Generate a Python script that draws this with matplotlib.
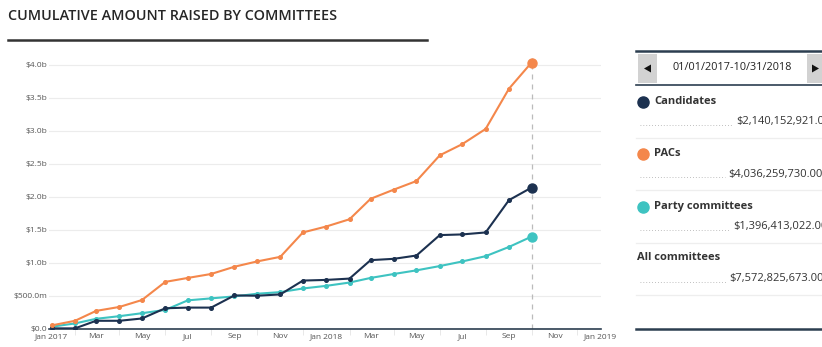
import matplotlib
matplotlib.use("Agg")
import matplotlib.pyplot as plt
import matplotlib.dates as mdates
from matplotlib.patches import Rectangle, Polygon
from matplotlib.lines import Line2D
import numpy as np
import datetime as dt

plt.rcParams['font.family'] = ['Open Sans', 'DejaVu Sans']

months = [dt.date(2017 + (m // 12), m % 12 + 1, 1) for m in range(22)]
candidates = [0.005, 0.005, 0.12, 0.12, 0.155, 0.31, 0.32, 0.32, 0.505, 0.50, 0.52,
              0.73, 0.74, 0.76, 1.04, 1.06, 1.11, 1.42, 1.43, 1.46, 1.95, 2.140152921]
pacs = [0.05, 0.12, 0.27, 0.33, 0.435, 0.71, 0.77, 0.83, 0.94, 1.02, 1.09,
        1.46, 1.55, 1.66, 1.97, 2.11, 2.24, 2.63, 2.80, 3.03, 3.64, 4.03625973]
party = [0.03, 0.08, 0.15, 0.19, 0.235, 0.285, 0.43, 0.46, 0.49, 0.53, 0.555,
         0.61, 0.65, 0.70, 0.77, 0.83, 0.885, 0.95, 1.02, 1.10, 1.24, 1.396413022]
series_names = ["Candidates", "PACs", "Party committees"]
totals = ["$2,140,152,921.00", "$4,036,259,730.00", "$1,396,413,022.00"]
all_total = "$7,572,825,673.00"
date_range = "01/01/2017-10/31/2018"
ytick_vals = [0, 0.5, 1.0, 1.5, 2.0, 2.5, 3.0, 3.5, 4.0]
ytick_labels = ["$0.0", "$500.0m", "$1.0b", "$1.5b", "$2.0b", "$2.5b", "$3.0b", "$3.5b", "$4.0b"]

NAVY = "#1c3150"
ORANGE = "#f4874b"
TEAL = "#3ec3c1"
colors = [NAVY, ORANGE, TEAL]

W, H = 822, 347
fig = plt.figure(figsize=(W / 100, H / 100), dpi=100)

def fx(px):
    return px / W

def fy(py):
    return 1 - py / H

# Title and rule
fig.text(fx(8), fy(16), "CUMULATIVE AMOUNT RAISED BY COMMITTEES", fontsize=10.4,
         fontweight='semibold', color="#262626", va='center', ha='left')
fig.add_artist(Line2D([fx(8), fx(427)], [fy(40), fy(40)], color="#333333", lw=1.8))

# Main axes
left, right, top, bottom = 48.7, 600.7, 58.4, 328.7
ax = fig.add_axes([fx(left), fy(bottom), fx(right - left), (bottom - top) / H])
x = mdates.date2num(months)
series = [candidates, pacs, party]
for idx in [2, 0, 1]:
    ax.plot(x, series[idx], color=colors[idx], lw=1.5, marker='o', ms=2.6, zorder=3)
    ax.plot(x[-1], series[idx][-1], 'o', color=colors[idx], ms=6.5, zorder=4)

ax.axvline(x[-1], color="#bbbbbb", lw=0.9, ls=(0, (4, 4)), zorder=1)

ax.set_xlim(mdates.date2num(dt.date(2016, 12, 28)), mdates.date2num(dt.date(2019, 1, 1)))
ax.set_ylim(0, 4.1)
ax.set_yticks(ytick_vals)
ax.set_yticklabels(ytick_labels)
ax.yaxis.grid(True, color="#ececec", lw=0.8)
ax.set_axisbelow(True)

major = [dt.date(2017, 1, 1), dt.date(2017, 3, 1), dt.date(2017, 5, 1), dt.date(2017, 7, 1),
         dt.date(2017, 9, 1), dt.date(2017, 11, 1), dt.date(2018, 1, 1), dt.date(2018, 3, 1),
         dt.date(2018, 5, 1), dt.date(2018, 7, 1), dt.date(2018, 9, 1), dt.date(2018, 11, 1),
         dt.date(2019, 1, 1)]
major_labels = ["Jan 2017", "Mar", "May", "Jul", "Sep", "Nov", "Jan 2018", "Mar", "May",
                "Jul", "Sep", "Nov", "Jan 2019"]
ax.set_xticks(mdates.date2num(major))
ax.set_xticklabels(major_labels)
minor = [dt.date(2017 + (m // 12), m % 12 + 1, 1) for m in range(1, 24, 2)]
ax.set_xticks(mdates.date2num(minor), minor=True)
ax.tick_params(axis='x', which='major', length=0, pad=3, labelsize=6, colors="#555555")
ax.tick_params(axis='x', which='minor', length=4, width=0.6, color="#e4e4e4", direction='out')
ax.tick_params(axis='y', length=0, pad=1, labelsize=6, colors="#555555")
for s in ['top', 'right', 'left']:
    ax.spines[s].set_visible(False)
ax.spines['bottom'].set_color("#2c3e50")
ax.spines['bottom'].set_linewidth(1.2)
ax.patch.set_alpha(0)

# Right panel
pl = 636
fig.add_artist(Line2D([fx(pl), 1], [fy(51), fy(51)], color="#2c3e50", lw=1.8))
fig.add_artist(Line2D([fx(pl), 1], [fy(85), fy(85)], color="#2c3e50", lw=1.2))
fig.add_artist(Rectangle((fx(638), fy(83)), fx(19), (83 - 54) / H, color="#d2d2d2", lw=0))
fig.add_artist(Rectangle((fx(807), fy(83)), fx(19), (83 - 54) / H, color="#d2d2d2", lw=0))
fig.add_artist(Polygon([(fx(644), fy(68.5)), (fx(651), fy(64.5)), (fx(651), fy(72.5))],
                       closed=True, color="#111111", lw=0))
fig.add_artist(Polygon([(fx(819), fy(68.5)), (fx(812), fy(64.5)), (fx(812), fy(72.5))],
                       closed=True, color="#111111", lw=0))
fig.text(fx(732), fy(68), date_range, fontsize=7.8, color="#222222", ha='center', va='center')

row_y = [101, 153, 206]
value_x = [736, 728, 733]
for i in range(3):
    y0 = row_y[i]
    fig.add_artist(Line2D([fx(643)], [fy(y0 + 1)], marker='o', ms=8, color=colors[i], lw=0))
    fig.text(fx(654), fy(y0), series_names[i], fontsize=8, fontweight='bold',
             color="#333333", ha='left', va='center')
    fig.text(fx(value_x[i]), fy(y0 + 21), totals[i], fontsize=8, color="#333333",
             ha='left', va='center')
    fig.add_artist(Line2D([fx(640), fx(value_x[i] - 3)], [fy(y0 + 24), fy(y0 + 24)],
                          color="#aaaaaa", lw=0.6, ls=(0, (1, 2.5))))
    fig.add_artist(Line2D([fx(pl), 1], [fy(y0 + 37), fy(y0 + 37)], color="#eeeeee", lw=0.9))

fig.text(fx(637), fy(258), "All committees", fontsize=8, fontweight='bold', color="#333333",
         ha='left', va='center')
fig.text(fx(729), fy(279), all_total, fontsize=8, color="#333333", ha='left', va='center')
fig.add_artist(Line2D([fx(640), fx(726)], [fy(282), fy(282)], color="#aaaaaa", lw=0.6,
                      ls=(0, (1, 2.5))))
fig.add_artist(Line2D([fx(pl), 1], [fy(295), fy(295)], color="#eeeeee", lw=0.9))
fig.add_artist(Line2D([fx(pl), 1], [fy(329), fy(329)], color="#2c3e50", lw=1.8))

fig.savefig("out.png", dpi=100)
